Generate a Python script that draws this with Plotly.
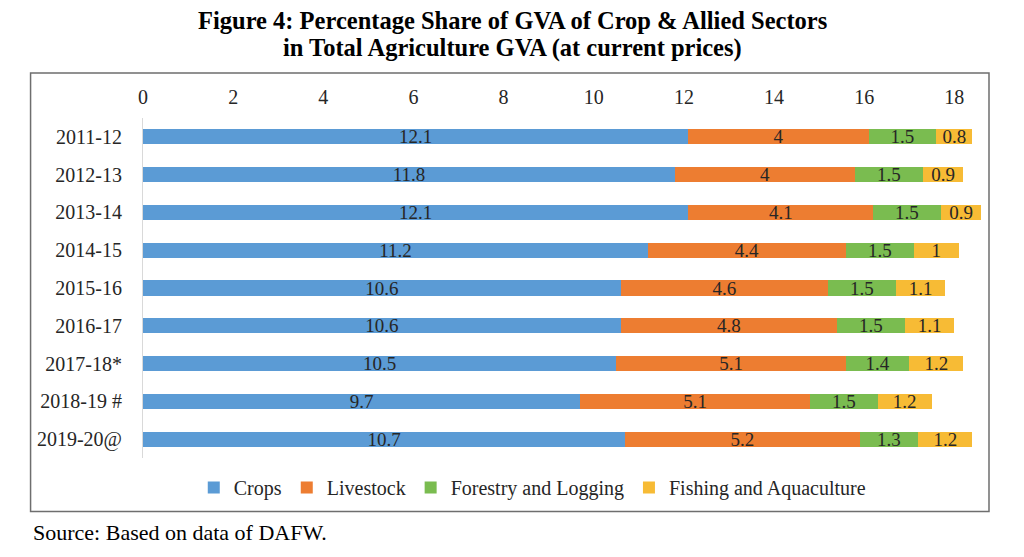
import plotly.graph_objects as go

years = ["2011-12", "2012-13", "2013-14", "2014-15", "2015-16", "2016-17",
         "2017-18*", "2018-19 #", "2019-20@"]
crops = [12.1, 11.8, 12.1, 11.2, 10.6, 10.6, 10.5, 9.7, 10.7]
livestock = [4, 4, 4.1, 4.4, 4.6, 4.8, 5.1, 5.1, 5.2]
forestry = [1.5, 1.5, 1.5, 1.5, 1.5, 1.5, 1.4, 1.5, 1.3]
fishing = [0.8, 0.9, 0.9, 1, 1.1, 1.1, 1.2, 1.2, 1.2]
x_ticks = [0, 2, 4, 6, 8, 10, 12, 14, 16, 18]
title_lines = ["Figure 4: Percentage Share of GVA of Crop &amp; Allied Sectors",
               "in Total Agriculture GVA (at current prices)"]

series = [
    ("Crops", crops, "#5B9BD5"),
    ("Livestock", livestock, "#ED7D31"),
    ("Forestry and Logging", forestry, "#7ABC50"),
    ("Fishing and Aquaculture", fishing, "#F7BB35"),
]

FONT = "Liberation Serif"
fig = go.Figure()
for name, vals, color in series:
    fig.add_trace(go.Bar(
        y=years, x=vals, name=name, orientation="h",
        marker=dict(color=color, line=dict(width=0)),
        text=[f"{v:g}" for v in vals],
        textposition="inside", insidetextanchor="middle",
        constraintext="none", textangle=0,
        textfont=dict(family=FONT, size=19, color="#262626"),
        hoverinfo="skip",
    ))

L, R, T, B = 142.5, 986, 118, 458.4
W, H = R - L, B - T

def px(xp):
    return (xp - L) / W

def py(yp):
    return (B - yp) / H

annotations = [dict(
    text="Source: Based on data of DAFW.", xref="paper", yref="paper",
    x=px(30), xanchor="left", y=py(533), yanchor="middle",
    showarrow=False, font=dict(family=FONT, size=22, color="#000000"),
)]
for line, yc in zip(title_lines, [20, 48]):
    annotations.append(dict(
        text=f"<b>{line}</b>", xref="paper", yref="paper",
        x=px(512), xanchor="center", y=py(yc), yanchor="middle",
        showarrow=False, font=dict(family=FONT, size=24.5, color="#000000"),
    ))

fig.update_layout(
    width=1024, height=557,
    barmode="stack", bargap=0.6,
    plot_bgcolor="white", paper_bgcolor="white",
    margin=dict(l=L, r=1024 - R, t=T, b=557 - B, pad=0, autoexpand=False),
    font=dict(family=FONT, size=20, color="#262626"),
    xaxis=dict(
        side="top", range=[0, W / 45.1], tickvals=x_ticks,
        showgrid=False, zeroline=False, showline=False, ticks="",
        ticklabelstandoff=9, automargin=False,
        tickfont=dict(family=FONT, size=20, color="#262626"),
    ),
    yaxis=dict(
        type="category",
        categoryorder="array", categoryarray=years, range=[8.5, -0.5],
        showgrid=False, zeroline=False, showline=True, linecolor="#D9D9D9",
        linewidth=1, ticks="", ticklabelstandoff=16, automargin=False,
        tickfont=dict(family=FONT, size=20, color="#262626"),
    ),
    legend=dict(
        orientation="h", x=px(532), xanchor="center", y=py(488), yanchor="middle",
        font=dict(family=FONT, size=20, color="#262626"),
        traceorder="normal", bgcolor="rgba(0,0,0,0)",
    ),
    shapes=[dict(
        type="rect", xref="paper", yref="paper",
        x0=px(30), x1=px(989), y0=py(512), y1=py(73),
        line=dict(color="#6E6E6E", width=1.5), fillcolor="rgba(0,0,0,0)",
        layer="below",
    )],
    annotations=annotations,
)

fig.write_html("out.html", config={"displayModeBar": False},
               post_script="document.body.style.margin='0px';")
